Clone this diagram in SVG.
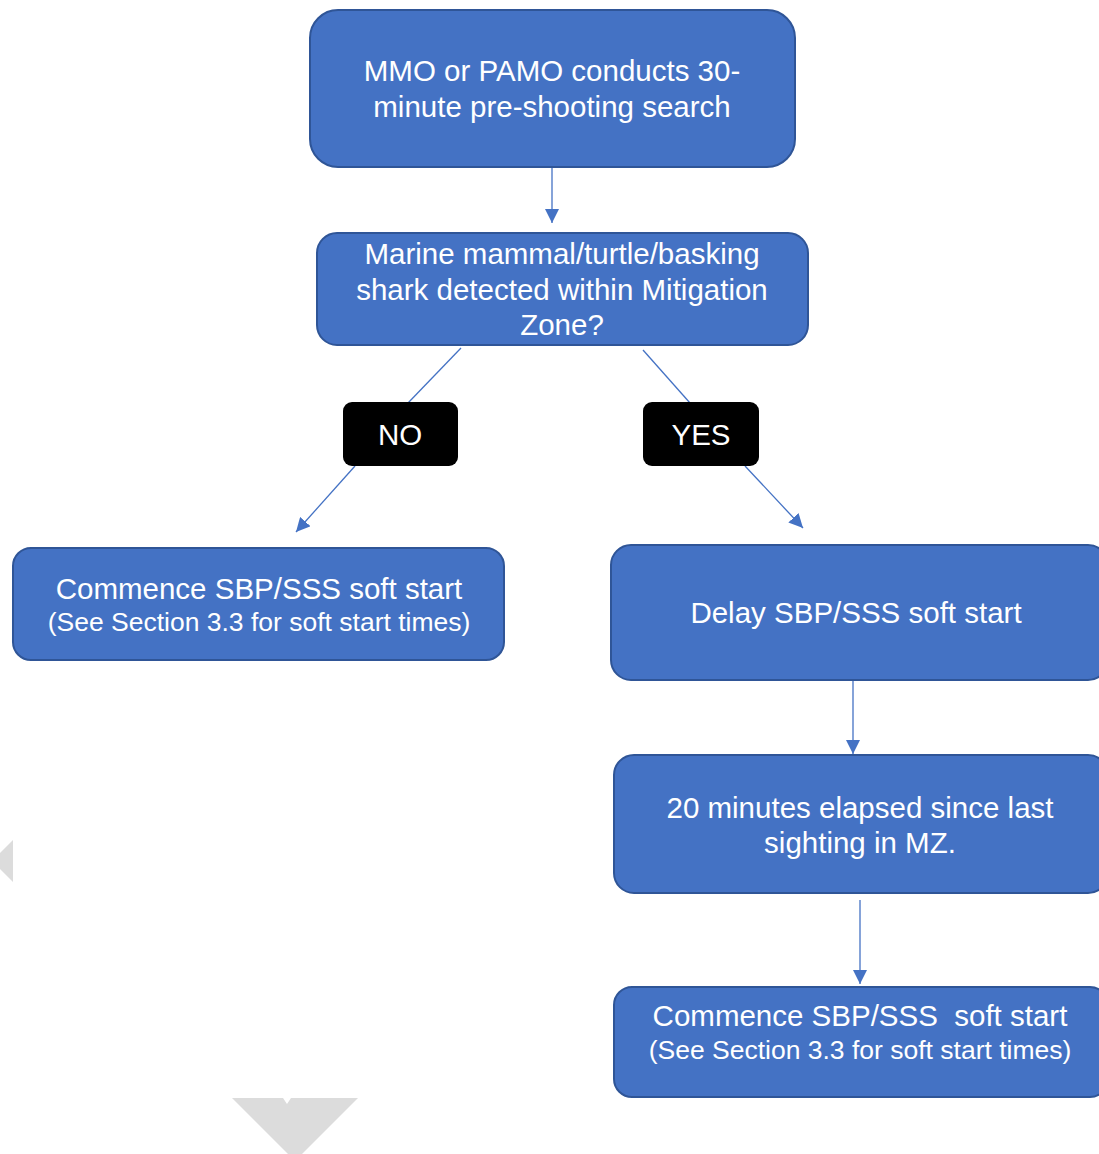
<svg xmlns="http://www.w3.org/2000/svg" width="1099" height="1154" viewBox="0 0 1099 1154">
<style>
.box{fill:#4472C4;stroke:#2F5597;stroke-width:2}
.lab{fill:#000}
.t{font-family:"Liberation Sans",Arial,sans-serif;fill:#fff;text-anchor:middle;font-size:29.5px;white-space:pre}
.s{font-size:26.5px}
.c{stroke:#4472C4;stroke-width:1.3;fill:none}
.g{fill:#DCDCDC}
</style>
<defs>
<marker id="ah" viewBox="0 0 10 10" refX="10" refY="5" markerWidth="14" markerHeight="14" markerUnits="userSpaceOnUse" orient="auto">
<path d="M0,0 L10,5 L0,10 z" fill="#4472C4"/>
</marker>
</defs>
<rect width="1099" height="1154" fill="#fff"/>
<polygon class="g" points="13,840 13,882 -8,861"/>
<polygon class="g" points="232,1098 283,1098 287,1104 291,1098 358,1098 295,1161"/>
<g id="connectors">
<line class="c" x1="552" y1="168" x2="552" y2="223" marker-end="url(#ah)"/>
<line class="c" x1="461" y1="348" x2="408" y2="403"/>
<line class="c" x1="355" y1="466" x2="296" y2="532" marker-end="url(#ah)"/>
<line class="c" x1="643" y1="350" x2="690" y2="403"/>
<line class="c" x1="745" y1="466" x2="803" y2="528" marker-end="url(#ah)"/>
<line class="c" x1="853" y1="681" x2="853" y2="754" marker-end="url(#ah)"/>
<line class="c" x1="860" y1="900" x2="860" y2="984" marker-end="url(#ah)"/>
</g>
<g id="n1"><rect class="box" x="310" y="10" width="485" height="157" rx="28"/>
<text class="t" x="552" y="81">MMO or PAMO conducts 30-</text>
<text class="t" x="552" y="117">minute pre-shooting search</text></g>
<g id="n2"><rect class="box" x="317" y="233" width="491" height="112" rx="20"/>
<text class="t" x="562" y="264">Marine mammal/turtle/basking</text>
<text class="t" x="562" y="300">shark detected within Mitigation</text>
<text class="t" x="562" y="335">Zone?</text></g>
<g id="no"><rect class="lab" x="343" y="402" width="115" height="64" rx="9"/>
<text class="t" x="400" y="445">NO</text></g>
<g id="yes"><rect class="lab" x="643" y="402" width="116" height="64" rx="9"/>
<text class="t" x="701" y="445">YES</text></g>
<g id="n3"><rect class="box" x="13" y="548" width="491" height="112" rx="18"/>
<text class="t" x="259" y="599">Commence SBP/SSS soft start</text>
<text class="t s" x="259" y="631">(See Section 3.3 for soft start times)</text></g>
<g id="n4"><rect class="box" x="611" y="545" width="497" height="135" rx="20"/>
<text class="t" x="856" y="623">Delay SBP/SSS soft start</text></g>
<g id="n5"><rect class="box" x="614" y="755" width="494" height="138" rx="20"/>
<text class="t" x="860" y="818">20 minutes elapsed since last</text>
<text class="t" x="860" y="853">sighting in MZ.</text></g>
<g id="n6"><rect class="box" x="614" y="987" width="494" height="110" rx="18"/>
<text class="t" x="860" y="1026">Commence SBP/SSS  soft start</text>
<text class="t s" x="860" y="1059">(See Section 3.3 for soft start times)</text></g>
</svg>
